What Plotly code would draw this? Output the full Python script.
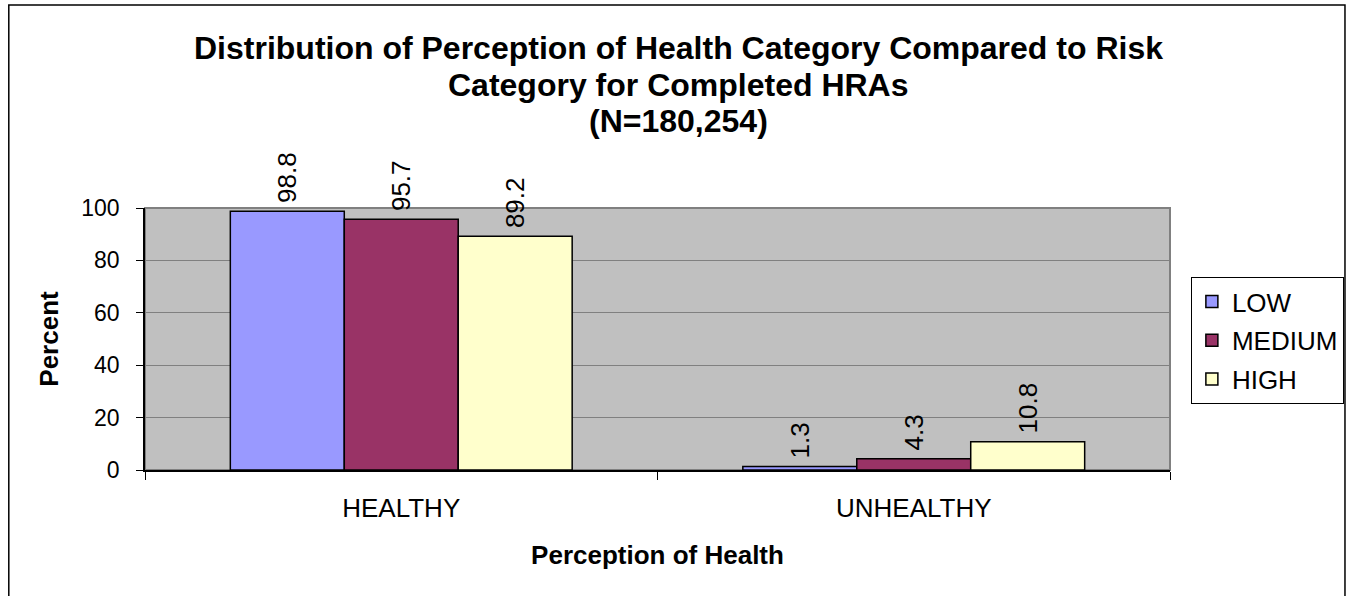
import plotly.graph_objects as go

categories = ["HEALTHY", "UNHEALTHY"]
series_names = ["LOW", "MEDIUM", "HIGH"]
low_vals = [98.8, 1.3]
medium_vals = [95.7, 4.3]
high_vals = [89.2, 10.8]
colors = ["#9999FF", "#993366", "#FFFFCC"]
title_lines = ["Distribution of Perception of Health Category Compared to Risk",
               "Category for Completed HRAs",
               "(N=180,254)"]
y_ticks = [0, 20, 40, 60, 80, 100]

FONT = "Arial, Liberation Sans, sans-serif"
W, H = 1356, 596
L, R, T, B = 145, 1176, 208, 470
pw, ph = R - L, B - T

def px(x):
    return (x - L) / pw

def py(y):
    return (B - y) / ph

fig = go.Figure()
for name, vals, col in zip(series_names, [low_vals, medium_vals, high_vals], colors):
    fig.add_trace(go.Bar(
        x=categories, y=vals, name=name, legendgroup=name,
        marker=dict(color=col, line=dict(color="black", width=1.5)),
        text=[f"\u2009{v:.1f}" for v in vals], textposition="outside", textangle=-90,
        textfont=dict(family=FONT, size=26, color="black"),
        cliponaxis=False, constraintext="none",
    ))

annotations = []
for yy, line in zip([48, 85, 121], title_lines):
    annotations.append(dict(text=f"<b>{line}</b>", xref="paper", yref="paper",
                            x=px(682), y=py(yy), xanchor="center", yanchor="middle",
                            showarrow=False, font=dict(family=FONT, size=32, color="black")))

fig.update_layout(
    width=W, height=H,
    margin=dict(l=L, r=W - R, t=T, b=H - B, pad=0),
    paper_bgcolor="white", plot_bgcolor="#C0C0C0",
    barmode="group", bargap=0.333, bargroupgap=0,
    font=dict(family=FONT, size=23, color="black"),
    showlegend=True,
    legend=dict(x=px(1197), y=py(277), xanchor="left", yanchor="top",
                bordercolor="black", borderwidth=1, bgcolor="white",
                font=dict(family=FONT, size=26, color="black"),
                traceorder="grouped", tracegroupgap=2, itemwidth=30),
    annotations=annotations,
    xaxis=dict(showline=True, linecolor="black", linewidth=1.5, tickson="boundaries",
               ticks="outside", ticklen=8, tickcolor="black", showgrid=False,
               tickfont=dict(family=FONT, size=26), ticklabelstandoff=14,
               title=dict(text="<b>Perception of Health</b>", font=dict(family=FONT, size=26), standoff=24)),
    yaxis=dict(range=[0, 100], tickvals=y_ticks, showline=True, linecolor="black", linewidth=1.5,
               ticks="outside", ticklen=7, tickcolor="black", showgrid=True, gridcolor="#808080",
               gridwidth=1, zeroline=False, tickfont=dict(family=FONT, size=23), ticklabelstandoff=12,
               title=dict(text="<b>Percent</b>", font=dict(family=FONT, size=26), standoff=15)),
    shapes=[
        dict(type="rect", xref="paper", yref="paper", x0=0, x1=1, y0=0, y1=1,
             line=dict(color="#808080", width=2), layer="below"),
        dict(type="rect", xref="paper", yref="paper", x0=px(8), x1=px(1352), y0=py(5), y1=py(610),
             line=dict(color="black", width=1.5), layer="above"),
    ],
)

fig.write_html("out.html", config={"displayModeBar": False},
               post_script="document.body.style.margin='0';document.body.style.overflow='hidden';")
